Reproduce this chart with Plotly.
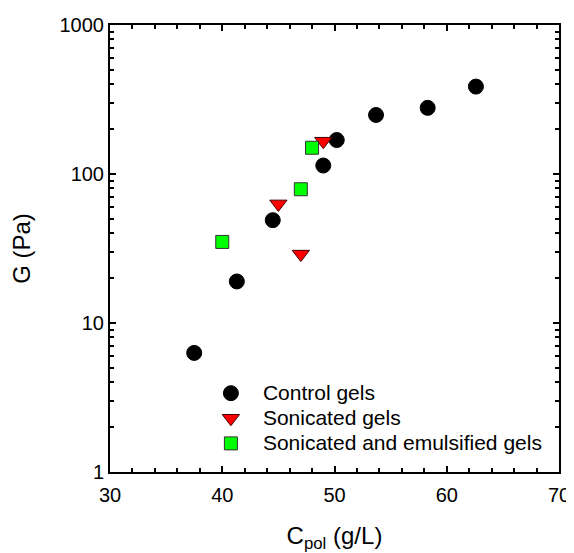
import plotly.graph_objects as go

control_x = [37.5, 41.3, 44.5, 49.0, 50.2, 53.7, 58.3, 62.6]
control_y = [6.3, 19, 49, 114, 169, 249, 278, 386]
son_x = [45.0, 47.0, 49.0]
son_y = [63, 29, 166]
emul_x = [40.0, 47.0, 48.0]
emul_y = [35, 79, 150]
names = ["Control gels", "Sonicated gels", "Sonicated and emulsified gels"]

font_family = "Arial, Liberation Sans, sans-serif"

def lname(s):
    return '<span style="font-size:21px">' + s + '</span>'

fig = go.Figure()
fig.add_trace(go.Scatter(x=control_x, y=control_y, mode="markers", name=lname(names[0]),
                         marker=dict(symbol="circle", size=15, color="black",
                                     line=dict(color="black", width=1))))
fig.add_trace(go.Scatter(x=son_x, y=son_y, mode="markers", name=lname(names[1]),
                         marker=dict(symbol="triangle-down", size=15, color="#ff0000",
                                     line=dict(color="#400000", width=1))))
fig.add_trace(go.Scatter(x=emul_x, y=emul_y, mode="markers", name=lname(names[2]),
                         marker=dict(symbol="square", size=13, color="#00ff00",
                                     line=dict(color="#333333", width=1))))

axis_common = dict(showline=True, linecolor="black", linewidth=2, mirror="ticks",
                   ticks="inside", ticklen=6, tickwidth=2, tickcolor="black",
                   showgrid=False, zeroline=False, automargin=False,
                   tickfont=dict(family=font_family, size=20, color="black"))

fig.update_xaxes(range=[30, 70], tick0=30, dtick=10, ticklabelstandoff=4,
                 minor=dict(ticks="inside", ticklen=4, tickwidth=2, tickcolor="black", dtick=2, showgrid=False),
                 title=dict(text="C<sub>pol</sub> (g/L)", font=dict(family=font_family, size=24, color="black"),
                            standoff=24),
                 **axis_common)
fig.update_yaxes(type="log", range=[0, 3], dtick=1,
                 minor=dict(ticks="inside", ticklen=4, tickwidth=2, tickcolor="black", dtick="D1", showgrid=False),
                 title=dict(text="G (Pa)", font=dict(family=font_family, size=24, color="black"),
                            standoff=23),
                 **axis_common)

# page body has an 8px margin, so the figure is offset by (8, 8)
fig.update_layout(
    width=566, height=545,
    margin=dict(l=102, r=15, t=17, b=81),
    plot_bgcolor="white", paper_bgcolor="white",
    font=dict(family=font_family, size=20, color="black"),
    legend=dict(x=0.198, y=0.2156, xanchor="left", yanchor="top",
                bgcolor="rgba(0,0,0,0)", font=dict(family=font_family, size=17, color="black"),
                tracegroupgap=0, itemwidth=54),
    showlegend=True,
)

fig.write_html("out.html")
